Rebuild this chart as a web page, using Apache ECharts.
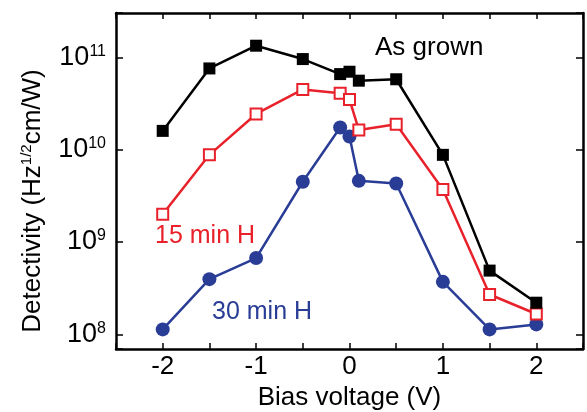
<!DOCTYPE html>
<html>
<head>
<meta charset="utf-8">
<script src="https://cdn.jsdelivr.net/npm/echarts@6/dist/echarts.min.js"></script>
<style>
  html, body { margin: 0; padding: 0; background: #fff; }
  #main { width: 587px; height: 412px; }
</style>
</head>
<body>
<div id="main"></div>
<script>
// bias voltage (V)
var biasV = [-2, -1.5, -1, -0.5, -0.1, 0, 0.1, 0.5, 1, 1.5, 2];
// detectivity, Hz^1/2 cm/W
var asGrown = [1.6e10, 7.6e10, 1.34e11, 9.6e10, 6.6e10, 7.0e10, 5.6e10, 5.8e10, 8.8e9, 4.9e8, 2.2e8];
var h15 = [2.0e9, 8.8e9, 2.44e10, 4.5e10, 4.1e10, 3.5e10, 1.64e10, 1.89e10, 3.7e9, 2.7e8, 1.66e8];
var h30 = [1.13e8, 3.96e8, 6.7e8, 4.5e9, 1.74e10, 1.39e10, 4.6e9, 4.3e9, 3.7e8, 1.13e8, 1.28e8];
var xTickLabels = [-2, -1, 0, 1, 2];
var yTickExps = [8, 9, 10, 11];

var font = 'Liberation Sans, Arial, sans-serif';
var black = '#000000', red = '#e8212b', blue = '#2a3d96';

const pairs = (ys) => {
  const out = [];
  for (let i = 0; i < biasV.length; i++) out.push([biasV[i], ys[i]]);
  return out;
};

const yLabel = (v) => {
  const e = Math.log10(v);
  const r = Math.round(e);
  if (Math.abs(e - r) > 1e-6 || yTickExps.indexOf(r) < 0) return '';
  return '{b|10}{s|' + r + '}';
};

const xAxisBase = {
  type: 'value',
  min: -2.5,
  max: 2.5,
  interval: 0.5,
  splitLine: { show: false },
  axisLine: { onZero: false, lineStyle: { color: '#000', width: 2.5 } },
  axisTick: { inside: true, length: 6, lineStyle: { color: '#000', width: 1.5 } }
};
const yAxisBase = {
  type: 'log',
  min: 6.93e7,
  max: 3.03e11,
  splitLine: { show: false },
  axisLine: { onZero: false, lineStyle: { color: '#000', width: 2.5 } },
  axisTick: { inside: true, length: 7, lineStyle: { color: '#000', width: 1.5 } }
};

const chart = echarts.init(document.getElementById('main'), null, { renderer: 'canvas' });
const option = {
  animation: false,
  backgroundColor: '#fff',
  grid: { left: 116, right: 4, top: 13, bottom: 63, containLabel: false, outerBoundsMode: 'none' },
  xAxis: [
    Object.assign({}, xAxisBase, {
      position: 'bottom',
      name: 'Bias voltage (V)',
      nameLocation: 'middle',
      nameGap: 36,
      nameTextStyle: { fontFamily: font, fontSize: 26, color: '#000' },
      axisLabel: {
        interval: 0,
        margin: 5,
        fontFamily: font,
        fontSize: 26,
        color: '#000',
        formatter: (v) => (xTickLabels.indexOf(v) >= 0 ? String(v) : '')
      }
    }),
    Object.assign({}, xAxisBase, { position: 'top', axisLabel: { show: false } })
  ],
  yAxis: [
    Object.assign({}, yAxisBase, {
      position: 'left',
      name: 'Detectivity (Hz{sup|1/2}cm/W)',
      nameLocation: 'middle',
      nameGap: 70,
      nameTextStyle: {
        fontFamily: font,
        fontSize: 26,
        color: '#000',
        padding: [0, 40, 0, 0],
        rich: {
          sup: { fontFamily: font, fontSize: 15, color: '#000', verticalAlign: 'top', padding: [0, 0, 12, 0] }
        }
      },
      axisLabel: {
        margin: 10,
        fontFamily: font,
        color: '#000',
        formatter: yLabel,
        rich: {
          b: { fontFamily: font, fontSize: 27, color: '#000' },
          s: { fontFamily: font, fontSize: 16, color: '#000', verticalAlign: 'top', padding: [0, 0, 12, 0] }
        }
      }
    }),
    Object.assign({}, yAxisBase, { position: 'right', axisLabel: { show: false } })
  ],
  graphic: [
    { type: 'text', left: 375, top: 35, style: { text: 'As grown', font: '26px ' + font, fill: black } },
    { type: 'text', left: 155, top: 224, style: { text: '15 min H', font: '25px ' + font, fill: red } },
    { type: 'text', left: 212, top: 300, style: { text: '30 min H', font: '25px ' + font, fill: blue } }
  ],
  series: [
    {
      name: '30 min H',
      type: 'line',
      data: pairs(h30),
      symbol: 'circle',
      symbolSize: 14,
      lineStyle: { color: blue, width: 2.5 },
      itemStyle: { color: blue }
    },
    {
      name: '15 min H',
      type: 'line',
      data: pairs(h15),
      symbol: 'rect',
      symbolSize: 11,
      lineStyle: { color: red, width: 2.5 },
      itemStyle: { color: '#fff', borderColor: red, borderWidth: 2 }
    },
    {
      name: 'As grown',
      type: 'line',
      data: pairs(asGrown),
      symbol: 'rect',
      symbolSize: 12,
      lineStyle: { color: black, width: 2.5 },
      itemStyle: { color: black }
    }
  ]
};
option && chart.setOption(option);
</script>
</body>
</html>
